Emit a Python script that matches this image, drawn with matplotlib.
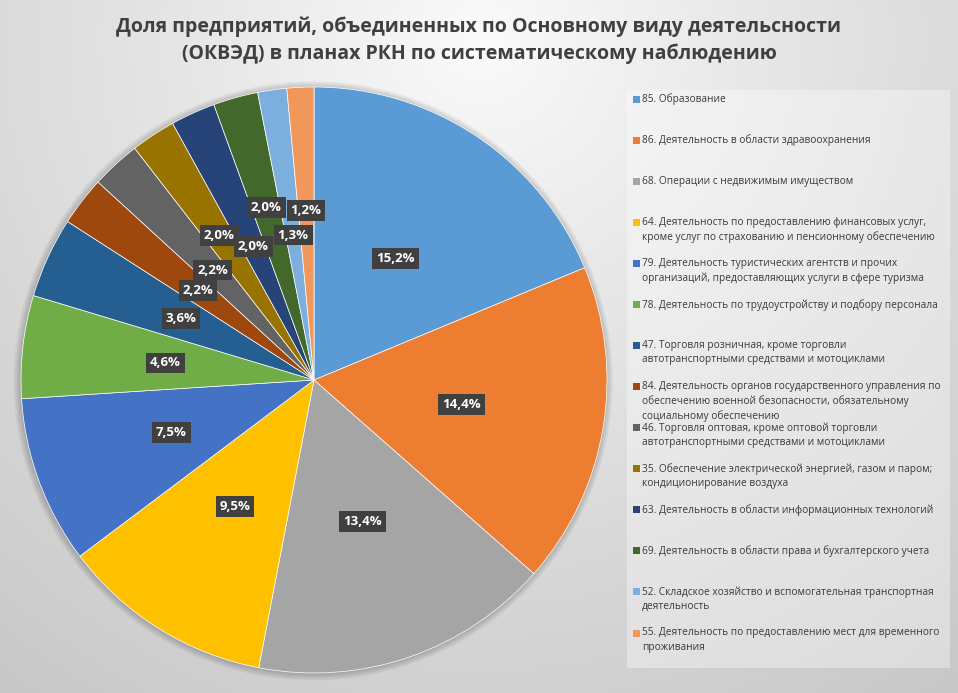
import numpy as np
import matplotlib.pyplot as plt
from matplotlib.patches import Rectangle

# Data
codes = ["85", "86", "68", "64", "79", "78", "47", "84", "46", "35", "63", "69", "52", "55"]
labels = [
    "85. Образование",
    "86. Деятельность в области здравоохранения",
    "68. Операции с недвижимым имуществом",
    "64. Деятельность по предоставлению финансовых услуг,\nкроме услуг по страхованию и пенсионному обеспечению",
    "79. Деятельность туристических агентств и прочих\nорганизаций, предоставляющих услуги в сфере туризма",
    "78. Деятельность по трудоустройству и подбору персонала",
    "47. Торговля розничная, кроме торговли\nавтотранспортными средствами и мотоциклами",
    "84. Деятельность органов государственного управления по\nобеспечению военной безопасности, обязательному\nсоциальному обеспечению",
    "46. Торговля оптовая, кроме оптовой торговли\nавтотранспортными средствами и мотоциклами",
    "35. Обеспечение электрической энергией, газом и паром;\nкондиционирование воздуха",
    "63. Деятельность в области информационных технологий",
    "69. Деятельность в области права и бухгалтерского учета",
    "52. Складское хозяйство и вспомогательная транспортная\nдеятельность",
    "55. Деятельность по предоставлению мест для временного\nпроживания",
]
values = [15.2, 14.4, 13.4, 9.5, 7.5, 4.6, 3.6, 2.2, 2.2, 2.0, 2.0, 2.0, 1.3, 1.2]

colors = ["#5B9BD5", "#ED7D31", "#A5A5A5", "#FFC000", "#4472C4", "#70AD47", "#255E91",
          "#9E480E", "#636363", "#997300", "#264478", "#43682B", "#7CAFDD", "#F1975A"]
# radial position of each data label (fraction of radius)
label_r = [0.50, 0.51, 0.51, 0.51, 0.52, 0.51, 0.50, 0.50, 0.51, 0.59, 0.50, 0.61, 0.50, 0.58]

FONT = ["Open Sans", "DejaVu Sans"]
plt.rcParams["font.family"] = FONT

W, H = 958, 693
fig = plt.figure(figsize=(W / 100, H / 100), dpi=100)

# background: radial grey gradient, light at top centre
bg = fig.add_axes([0, 0, 1, 1])
yy, xx = np.mgrid[0:H, 0:W]
d = np.sqrt((xx - 480) ** 2 + (yy - 40) ** 2)
shade = 0.985 - 0.2 * np.clip(d / 800, 0, 1) ** 0.9
bg.imshow(np.dstack([shade] * 3), extent=[0, W, H, 0], aspect="auto")
bg.set_xlim(0, W)
bg.set_ylim(H, 0)
bg.axis("off")

# title
fig.text(0.5, 1 - 40 / H, "Доля предприятий, объединенных по Основному виду деятельсности\n"
         "(ОКВЭД) в планах РКН по систематическому наблюдению",
         ha="center", va="center", fontsize=14, fontweight="bold", color="#404040",
         linespacing=1.45)

# pie axes: centre (314, 380) px, radius 293 px
cx, cy, R = 314, 380, 293
ax = fig.add_axes([(cx - R) / W, (H - cy - R) / H, 2 * R / W, 2 * R / H])
for k in range(4):  # soft shadow round the pie
    ax.add_patch(plt.Circle((-0.003, -0.003), 1.004 + 0.006 * k, color="black",
                            alpha=0.05, zorder=0, lw=0))
wedges, _ = ax.pie(values, colors=colors, startangle=90, counterclock=False,
                   wedgeprops=dict(edgecolor="white", linewidth=0.5))
ax.set_xlim(-1.05, 1.05)
ax.set_ylim(-1.05, 1.05)
ax.set_aspect("equal")
ax.axis("off")
ax.set_position([(cx - R * 1.05) / W, (H - cy - R * 1.05) / H, 2.1 * R / W, 2.1 * R / H])

total = sum(values)
cum = 0.0
for v, r in zip(values, label_r):
    mid = 90 - (cum + v / 2) / total * 360
    cum += v
    a = np.deg2rad(mid)
    ax.text(r * np.cos(a), r * np.sin(a), f"{v:.1f}%".replace(".", ","),
            ha="center", va="center", fontsize=9.5, fontweight="bold", color="white",
            bbox=dict(boxstyle="square,pad=0.3", facecolor="#404040", edgecolor="none"))

# legend box, drawn by hand to keep Excel's even spacing
lx0, ly0, lx1, ly1 = 627, 90, 950, 668
bg.add_patch(Rectangle((lx0, ly0), lx1 - lx0, ly1 - ly0, facecolor="white",
                       alpha=0.35, edgecolor="none"))
step = (633 - 99) / (len(labels) - 1)
for i, (lab, col) in enumerate(zip(labels, colors)):
    y = 99 + i * step
    bg.add_patch(Rectangle((633, y - 3.5), 7, 7, facecolor=col, edgecolor="none"))
    bg.text(642, y - 5.5, lab, ha="left", va="top", fontsize=7.3, color="#3a3a3a",
            linespacing=1.38)

fig.savefig("out.png", dpi=100)
